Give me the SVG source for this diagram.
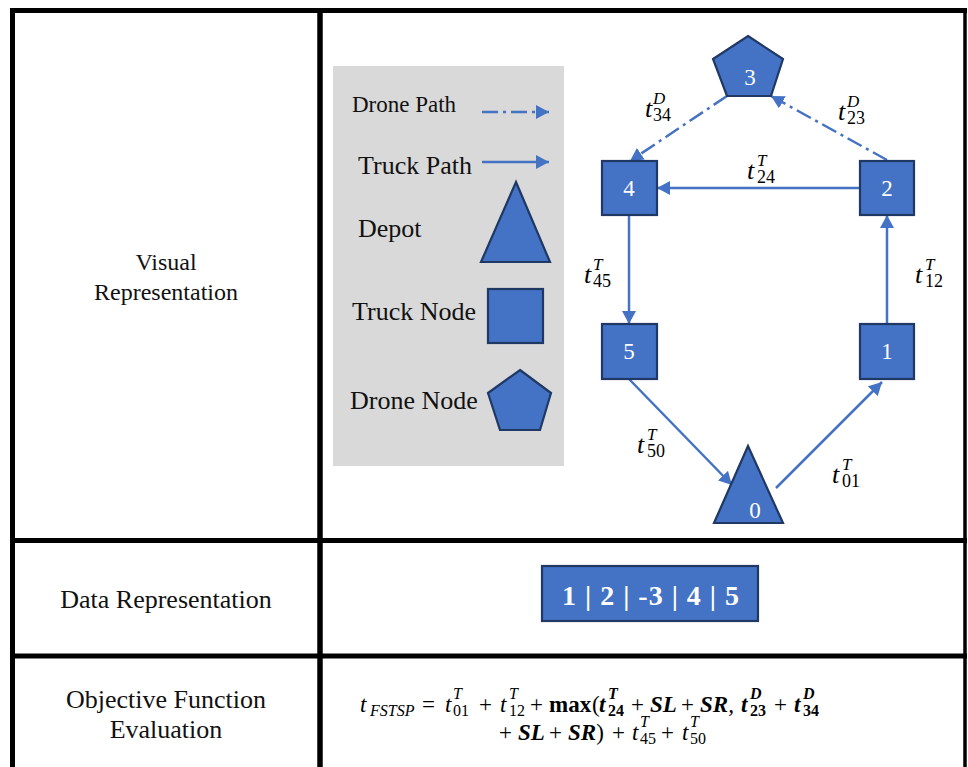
<svg xmlns="http://www.w3.org/2000/svg" width="968" height="767" viewBox="0 0 968 767">
  <style>
    text { font-family: "Liberation Serif", "Times New Roman", serif; }
    .grid { stroke: #000; fill: none; }
    .cap { fill: #111; }
    .node { fill: #4472c4; stroke: #1f3864; stroke-width: 2.2; stroke-linejoin: miter; }
    .nlabel { font-size: 23px; fill: #fff; text-anchor: middle; }
    .truck { stroke: #4472c4; stroke-width: 2.5; fill: none; marker-end: url(#arrow); }
    .drone { stroke: #4472c4; stroke-width: 2.5; fill: none; stroke-dasharray: 16 5 3 5; marker-end: url(#arrow); }
    .math { fill: #000; }
    .t { font-style: italic; font-size: 26px; }
    .sx { font-style: italic; font-size: 17px; }
    .sd { font-size: 18px; }
    .f { font-size: 23px; }
    .fi { font-size: 23px; font-style: italic; }
    .fb { font-size: 23px; font-weight: bold; }
    .fbi { font-size: 23px; font-weight: bold; font-style: italic; }
    .fs { font-size: 16px; }
    .fsi { font-size: 16px; font-style: italic; }
    .fsbi { font-size: 16px; font-style: italic; font-weight: bold; }
    .fsb { font-size: 16px; font-weight: bold; }
  </style>
  <defs>
    <marker id="arrow" markerUnits="userSpaceOnUse" markerWidth="14" markerHeight="14" refX="13" refY="7" orient="auto">
      <path d="M0,0 L13,7 L0,14 z" fill="#4472c4"/>
    </marker>
  </defs>

  <rect width="968" height="767" fill="#fff"/>

  <!-- table frame -->
  <g id="table" class="grid">
    <line x1="10" y1="10.5" x2="967" y2="10.5" stroke-width="5"/>
    <line x1="12.5" y1="8" x2="12.5" y2="767" stroke-width="5"/>
    <line x1="965" y1="8" x2="965" y2="767" stroke-width="3.5"/>
    <line x1="320" y1="8" x2="320" y2="767" stroke-width="5.5"/>
    <line x1="10" y1="540.5" x2="967" y2="540.5" stroke-width="5"/>
    <line x1="10" y1="656" x2="967" y2="656" stroke-width="5"/>
  </g>

  <!-- row headings -->
  <g id="row-headings" class="cap" text-anchor="middle">
    <text x="166" y="270" font-size="24">Visual</text>
    <text x="166" y="300" font-size="24">Representation</text>
    <text x="166" y="608" font-size="26">Data Representation</text>
    <text x="166" y="708" font-size="26">Objective Function</text>
    <text x="166" y="738" font-size="26">Evaluation</text>
  </g>

  <!-- legend -->
  <g id="legend">
    <rect x="333" y="66" width="231" height="400" fill="#d9d9d9"/>
    <text class="cap" x="352" y="112" font-size="23">Drone Path</text>
    <line class="drone" x1="482" y1="112" x2="549" y2="112"/>
    <text class="cap" x="358" y="174" font-size="26">Truck Path</text>
    <line class="truck" x1="482" y1="162" x2="549" y2="162"/>
    <text class="cap" x="358" y="237" font-size="26">Depot</text>
    <polygon class="node" points="516,182 550,262 481,262"/>
    <text class="cap" x="352" y="320" font-size="26">Truck Node</text>
    <rect class="node" x="488" y="289" width="55" height="54"/>
    <text class="cap" x="350" y="409" font-size="26">Drone Node</text>
    <polygon class="node" points="520,370 551,393 540,430 500,430 488,393"/>
  </g>

  <!-- route connectors -->
  <g id="connectors">
    <line id="e23" class="drone" x1="887" y1="160" x2="771" y2="96"/>
    <line id="e34" class="drone" x1="727" y1="96" x2="630" y2="161"/>
    <line id="e24" class="truck" x1="860" y1="188" x2="657" y2="188"/>
    <line id="e45" class="truck" x1="629" y1="215" x2="629" y2="324"/>
    <line id="e12" class="truck" x1="887" y1="324" x2="887" y2="215"/>
    <line id="e50" class="truck" x1="629" y1="379" x2="732" y2="485"/>
    <line id="e01" class="truck" x1="776" y1="488" x2="882" y2="382"/>
  </g>

  <!-- edge costs -->
  <g id="edge-labels" class="math">
    <text x="645" y="117"><tspan class="t">t</tspan><tspan class="sx" x="653" y="104">D</tspan><tspan class="sd" x="653" y="121">34</tspan></text>
    <text x="838" y="120"><tspan class="t">t</tspan><tspan class="sx" x="847" y="107">D</tspan><tspan class="sd" x="847" y="124">23</tspan></text>
    <text x="747" y="179"><tspan class="t">t</tspan><tspan class="sx" x="757" y="166">T</tspan><tspan class="sd" x="757" y="183">24</tspan></text>
    <text x="584" y="283"><tspan class="t">t</tspan><tspan class="sx" x="593" y="270">T</tspan><tspan class="sd" x="593" y="287">45</tspan></text>
    <text x="915" y="283"><tspan class="t">t</tspan><tspan class="sx" x="925" y="270">T</tspan><tspan class="sd" x="925" y="287">12</tspan></text>
    <text x="637" y="453"><tspan class="t">t</tspan><tspan class="sx" x="647" y="440">T</tspan><tspan class="sd" x="647" y="457">50</tspan></text>
    <text x="832" y="483"><tspan class="t">t</tspan><tspan class="sx" x="842" y="470">T</tspan><tspan class="sd" x="842" y="487">01</tspan></text>
  </g>

  <!-- route nodes -->
  <g id="node-3">
    <polygon class="node" points="748,36 783,59 771,96 727,96 713,59"/>
    <text class="nlabel" x="750" y="85">3</text>
  </g>
  <g id="node-4">
    <rect class="node" x="602" y="161" width="55" height="54"/>
    <text class="nlabel" x="629" y="196">4</text>
  </g>
  <g id="node-2">
    <rect class="node" x="860" y="161" width="54" height="54"/>
    <text class="nlabel" x="887" y="196">2</text>
  </g>
  <g id="node-5">
    <rect class="node" x="602" y="324" width="55" height="55"/>
    <text class="nlabel" x="629" y="359">5</text>
  </g>
  <g id="node-1">
    <rect class="node" x="860" y="324" width="54" height="55"/>
    <text class="nlabel" x="887" y="359">1</text>
  </g>
  <g id="node-0">
    <polygon class="node" points="748,446 783,523 714,523"/>
    <text class="nlabel" x="755" y="518">0</text>
  </g>

  <!-- encoded route -->
  <g id="route-code">
    <rect x="542" y="566" width="216" height="55" fill="#4472c4" stroke="#1f3864" stroke-width="2.2"/>
    <text x="651" y="605" font-weight="bold" font-size="28" letter-spacing="1" fill="#fff" text-anchor="middle">1 | 2 | -3 | 4 | 5</text>
  </g>

  <!-- objective value -->
  <g id="objective" class="math">
    <text y="712">
      <tspan class="fi" x="360">t</tspan><tspan class="fsi" x="370" y="716">FSTSP</tspan>
      <tspan class="f" x="422" y="712">=</tspan>
      <tspan class="fi" x="445" y="712">t</tspan><tspan class="fsi" x="453" y="699">T</tspan><tspan class="fs" x="453" y="716">01</tspan>
      <tspan class="f" x="479" y="712">+</tspan>
      <tspan class="fi" x="500" y="712">t</tspan><tspan class="fsi" x="509" y="699">T</tspan><tspan class="fs" x="509" y="716">12</tspan>
      <tspan class="f" x="530" y="712">+</tspan>
      <tspan class="fb" x="549" y="712">max</tspan>
      <tspan class="f" x="592" y="712">(</tspan><tspan class="fbi" x="599" y="712">t</tspan><tspan class="fsbi" x="608" y="699">T</tspan><tspan class="fsb" x="608" y="716">24</tspan>
      <tspan class="f" x="631" y="712">+</tspan>
      <tspan class="fbi" x="650" y="712">SL</tspan>
      <tspan class="f" x="681" y="712">+</tspan>
      <tspan class="fbi" x="700" y="712">SR</tspan><tspan class="fi" y="712">,</tspan>
      <tspan class="fbi" x="741" y="712">t</tspan><tspan class="fsbi" x="750" y="699">D</tspan><tspan class="fsb" x="750" y="716">23</tspan>
      <tspan class="f" x="774" y="712">+</tspan>
      <tspan class="fbi" x="794" y="712">t</tspan><tspan class="fsbi" x="803" y="699">D</tspan><tspan class="fsb" x="803" y="716">34</tspan>
    </text>
    <text y="740">
      <tspan class="f" x="499">+</tspan>
      <tspan class="fbi" x="518" y="740">SL</tspan>
      <tspan class="f" x="549" y="740">+</tspan>
      <tspan class="fbi" x="568" y="740">SR</tspan><tspan class="f" y="740">)</tspan>
      <tspan class="f" x="612" y="740">+</tspan>
      <tspan class="fi" x="632" y="740">t</tspan><tspan class="fsi" x="640" y="727">T</tspan><tspan class="fs" x="640" y="744">45</tspan>
      <tspan class="f" x="661" y="740">+</tspan>
      <tspan class="fi" x="682" y="740">t</tspan><tspan class="fsi" x="690" y="727">T</tspan><tspan class="fs" x="690" y="744">50</tspan>
    </text>
  </g>
</svg>
